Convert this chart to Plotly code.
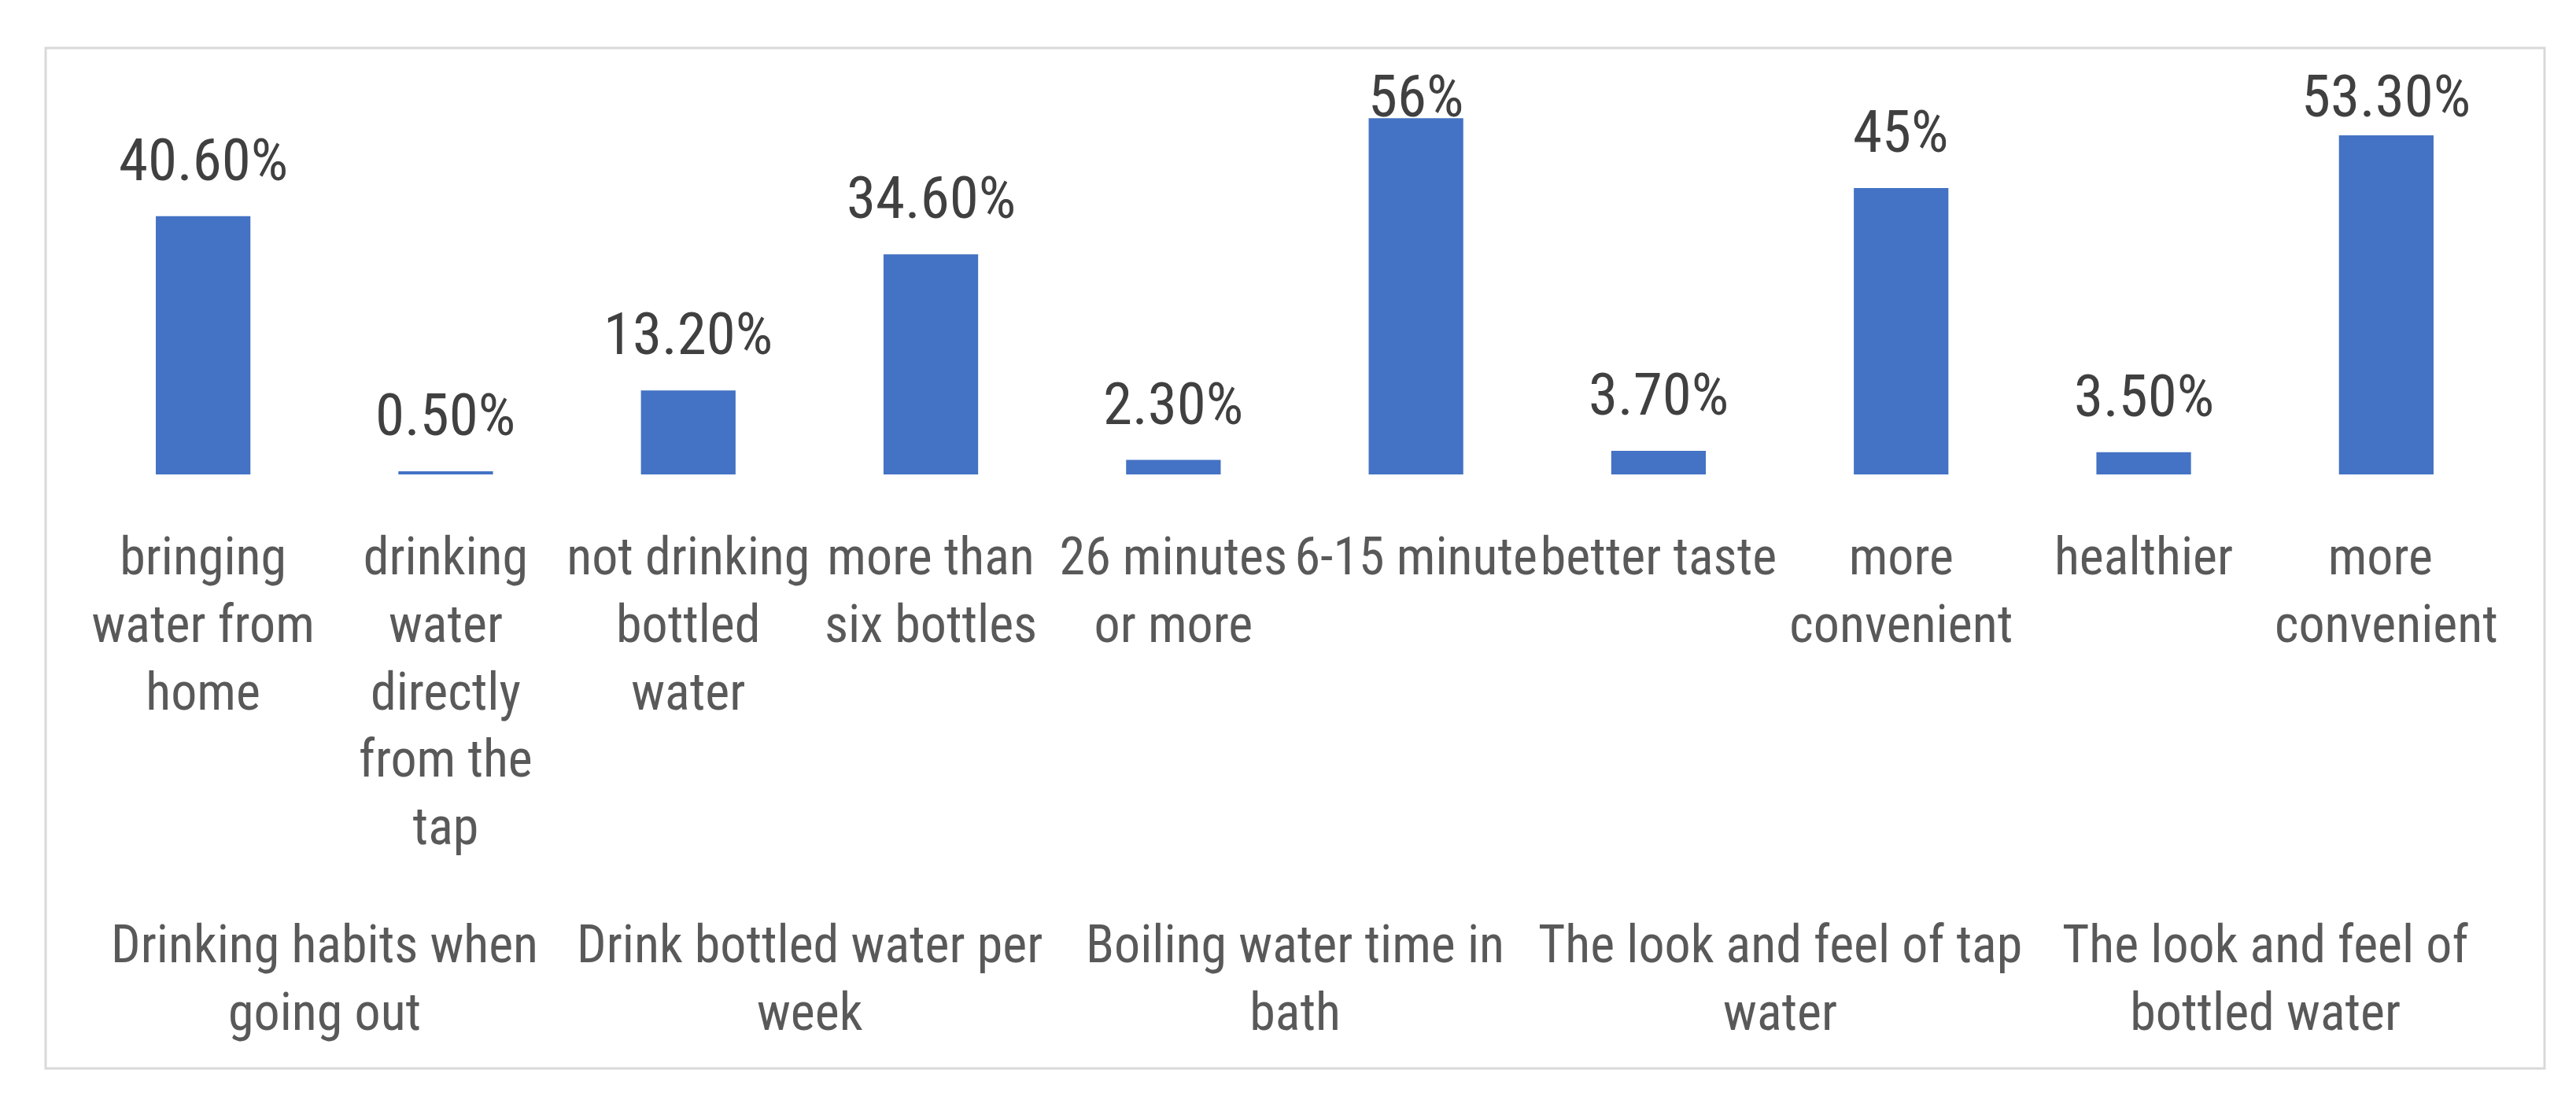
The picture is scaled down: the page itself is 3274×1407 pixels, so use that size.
import plotly.graph_objects as go

groups = [
    "Drinking habits when<br>going out",
    "Drinking habits when<br>going out",
    "Drink bottled water per<br>week",
    "Drink bottled water per<br>week",
    "Boiling water time in<br>bath",
    "Boiling water time in<br>bath",
    "The look and feel of tap<br>water",
    "The look and feel of tap<br>water",
    "The look and feel of<br>bottled water",
    "The look and feel of<br>bottled water",
]
categories = [
    "bringing<br>water from<br>home",
    "drinking<br>water<br>directly<br>from the<br>tap",
    "not drinking<br>bottled<br>water",
    "more than<br>six bottles",
    "26 minutes<br>or more",
    "6-15 minute",
    "better taste",
    "more<br>convenient",
    "healthier",
    "more <br>convenient",
]
values = [40.6, 0.5, 13.2, 34.6, 2.3, 56, 3.7, 45, 3.5, 53.3]
value_labels = ["40.60%", "0.50%", "13.20%", "34.60%", "2.30%", "56%",
                "3.70%", "45%", "3.50%", "53.30%"]

FONT = "Liberation Sans Narrow, Arial Narrow, Roboto Condensed, Liberation Sans, sans-serif"
TEXT = "#595959"
W, H = 3274, 1407
L, R, T, B = 104, 87, 62, 804
YMAX = 66.9
LABEL_GAP = 3.2
LABEL_CAP = 53.8
GROUP_Y = -1.03  # paper units, top of group labels

fig = go.Figure()
fig.add_trace(go.Bar(
    x=categories,
    y=values,
    marker=dict(color="#4472C4", line=dict(width=0)),
    width=0.39,
    hoverinfo="skip",
))

for i, (v, t) in enumerate(zip(values, value_labels)):
    fig.add_annotation(
        x=i, xref="x", yref="y",
        y=min(v + LABEL_GAP, LABEL_CAP),
        text=t, showarrow=False, yanchor="bottom",
        font=dict(family=FONT, size=75, color="#404040"),
    )

# group (second-level) category labels, centred under their bars
seen = []
for g in groups:
    if g not in seen:
        seen.append(g)
for g in seen:
    idx = [i for i, gg in enumerate(groups) if gg == g]
    fig.add_annotation(
        x=sum(idx) / len(idx), xref="x", yref="paper", y=GROUP_Y,
        text=g, showarrow=False, yanchor="top", align="center",
        font=dict(family=FONT, size=66, color=TEXT),
    )

fig.add_shape(type="rect", xref="paper", yref="paper",
              x0=(58 - L) / (W - L - R), x1=(3234 - L) / (W - L - R),
              y0=-(1358 - (H - B)) / (H - T - B), y1=1.002,
              line=dict(color="#D9D9D9", width=3), fillcolor="rgba(0,0,0,0)",
              layer="below")

fig.update_layout(
    width=W, height=H,
    margin=dict(l=L, r=R, t=T, b=B, pad=0),
    paper_bgcolor="white", plot_bgcolor="white",
    showlegend=False,
    font=dict(family=FONT, size=66, color=TEXT),
    xaxis=dict(type="category", showline=False,
               showgrid=False, zeroline=False, ticks="", tickangle=0,
               ticklabelstandoff=60,
               tickfont=dict(family=FONT, size=66, color=TEXT)),
    yaxis=dict(range=[0, YMAX], visible=False, showgrid=False, zeroline=False),
)

fig.write_html("out.html")
